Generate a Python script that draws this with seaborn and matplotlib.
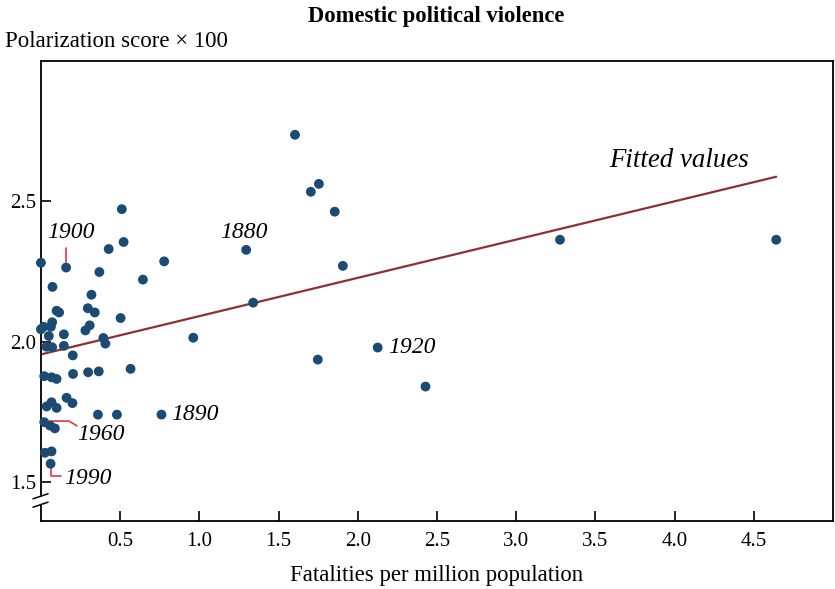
import matplotlib
matplotlib.use("Agg")
import matplotlib.pyplot as plt
import seaborn as sns
import pandas as pd

# fatalities per million population (x) and polarization score x 100 (y)
fatalities = [1.604, 1.704, 1.755, 1.855, 1.906, 1.296, 1.340, 0.962, 1.748,
              2.126, 2.428, 3.277, 4.642, 0.761,
              0.000, 0.159, 0.511, 0.522, 0.428, 0.778, 0.369, 0.644, 0.073,
              0.319, 0.099, 0.115, 0.296, 0.340, 0.503, 0.000, 0.017, 0.063,
              0.071, 0.050, 0.145, 0.281, 0.308, 0.035, 0.071, 0.145, 0.394,
              0.407, 0.201, 0.021, 0.067, 0.099, 0.203, 0.298, 0.365, 0.566,
              0.036, 0.067, 0.099, 0.162, 0.199, 0.360, 0.480, 0.021, 0.057,
              0.088, 0.025, 0.067, 0.061]
polarization = [2.737, 2.534, 2.562, 2.463, 2.270, 2.327, 2.139, 2.014, 1.936,
                1.979, 1.840, 2.363, 2.363, 1.740,
                2.281, 2.264, 2.472, 2.355, 2.330, 2.286, 2.248, 2.221, 2.195,
                2.167, 2.110, 2.104, 2.119, 2.104, 2.084, 2.044, 2.053, 2.053,
                2.069, 2.020, 2.026, 2.040, 2.058, 1.982, 1.980, 1.985, 2.013,
                1.993, 1.951, 1.877, 1.873, 1.867, 1.885, 1.891, 1.894, 1.903,
                1.769, 1.784, 1.764, 1.800, 1.781, 1.740, 1.740, 1.713, 1.701,
                1.691, 1.604, 1.609, 1.565]

x_ticks = [0.5, 1.0, 1.5, 2.0, 2.5, 3.0, 3.5, 4.0, 4.5]
y_ticks = [1.5, 2.0, 2.5]

df = pd.DataFrame({"fatalities": fatalities, "polarization": polarization})

sns.set_style("ticks")
plt.rcParams["font.family"] = ["Liberation Serif", "DejaVu Serif"]
plt.rcParams["text.color"] = "black"
plt.rcParams["axes.labelcolor"] = "black"

dot = "#1b4a72"
fit = "#8e2f36"
lead = "#e8363c"

fig = plt.figure(figsize=(8.35, 5.89), dpi=100)
ax = fig.add_axes([0.049, 0.115, 0.9485, 0.7815])

sns.regplot(data=df, x="fatalities", y="polarization", scatter=False, ci=None,
            color=fit, line_kws={"linewidth": 1.6}, ax=ax)
sns.scatterplot(data=df, x="fatalities", y="polarization", color=dot, s=50,
                edgecolor="none", ax=ax, zorder=3, clip_on=False)

ax.set_xlim(0, 5.0)
ax.set_ylim(1.36, 3.0)
ax.set_xticks(x_ticks)
ax.set_xticklabels([f"{t:.1f}" for t in x_ticks])
ax.set_yticks(y_ticks)
ax.set_yticklabels([f"{t:.1f}" for t in y_ticks])
ax.tick_params(direction="in", length=7, width=1.2, labelsize=15, colors="black")
ax.tick_params(axis="x", pad=8)
for s in ax.spines.values():
    s.set_visible(True)
    s.set_linewidth(1.3)
    s.set_color("black")
ax.set_xlabel("Fatalities per million population", fontsize=16.4, labelpad=10)
ax.set_ylabel("")

fig.text(0.522, 0.972, "Domestic political violence", ha="center", va="center",
         fontsize=16.3, fontweight="bold")
fig.text(0.006, 0.929, "Polarization score \u00d7 100", ha="left", va="center",
         fontsize=16.5)

# year labels
lab = dict(fontsize=17, style="italic", va="center")
ax.text(0.19, 2.388, "1900", ha="center", **lab)
ax.plot([0.159, 0.159], [2.333, 2.283], color=lead, lw=1.2)
ax.text(1.283, 2.388, "1880", ha="center", **lab)
ax.text(0.82, 1.74, "1890", ha="left", **lab)
ax.text(2.19, 1.979, "1920", ha="left", **lab)
ax.text(0.23, 1.668, "1960", ha="left", **lab)
ax.plot([0.06, 0.177, 0.227], [1.717, 1.717, 1.70], color=lead, lw=1.2)
ax.text(0.145, 1.513, "1990", ha="left", **lab)
ax.plot([0.061, 0.061, 0.126], [1.555, 1.523, 1.523], color=lead, lw=1.2)
ax.text(3.585, 2.644, "Fitted values", ha="left", va="center", fontsize=19.4,
        style="italic")

# axis break marks on the y axis
ax.plot([-0.05, 0.045], [1.425, 1.443], color="white", lw=5, clip_on=False, zorder=4)
ax.plot([-0.05, 0.045], [1.410, 1.428], color="black", lw=1.1, clip_on=False, zorder=5)
ax.plot([-0.05, 0.045], [1.440, 1.458], color="black", lw=1.1, clip_on=False, zorder=5)

fig.savefig("out.png", dpi=100)
